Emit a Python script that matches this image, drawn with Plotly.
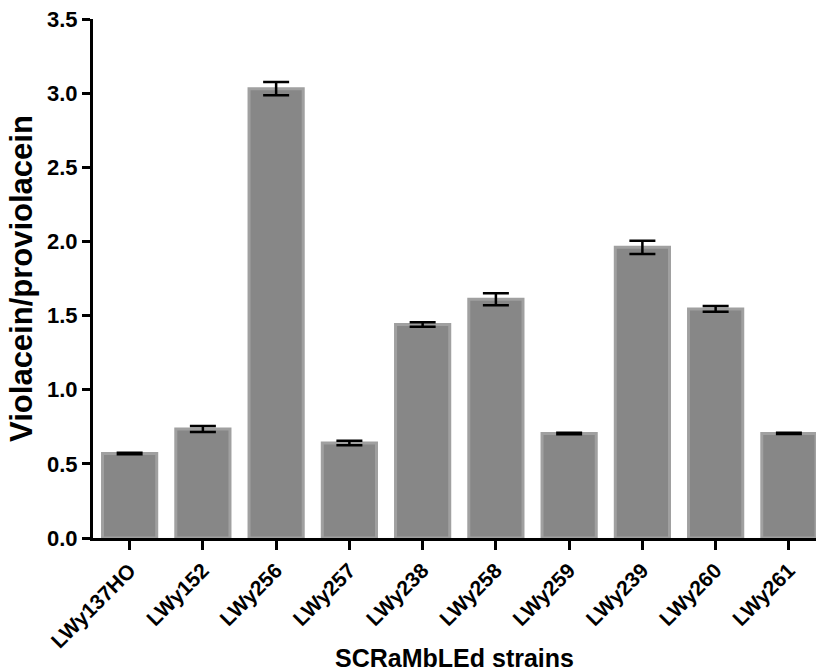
import plotly.graph_objects as go

strains = ["LWy137HO", "LWy152", "LWy256", "LWy257", "LWy238",
           "LWy258", "LWy259", "LWy239", "LWy260", "LWy261"]
ratio = [0.57, 0.735, 3.03, 0.64, 1.44, 1.61, 0.705, 1.96, 1.545, 0.705]
err = [0.005, 0.02, 0.045, 0.015, 0.015, 0.04, 0.005, 0.044, 0.02, 0.004]

FONT = "Liberation Sans, Arial, sans-serif"

fig = go.Figure()
fig.add_trace(go.Bar(
    x=list(range(len(strains))),
    y=ratio,
    width=0.74,
    marker=dict(color="#878787", line=dict(color="#a0a0a0", width=3)),
    error_y=dict(type="data", array=err, visible=True, color="black",
                 thickness=2.5, width=13),
))

fig.update_layout(
    width=816, height=672,
    margin=dict(l=93, r=0, t=19, b=134),
    plot_bgcolor="white", paper_bgcolor="white",
    showlegend=False,
    font=dict(family=FONT, color="black"),
    xaxis=dict(
        range=[-0.5, 9.37],
        automargin=False,
        tickmode="array",
        tickvals=list(range(len(strains))),
        ticktext=["<b>%s</b>" % s for s in strains],
        tickangle=-45,
        ticks="outside", ticklen=9, tickwidth=3, tickcolor="black",
        showline=True, linecolor="black", linewidth=3,
        showgrid=False, zeroline=False,
        tickfont=dict(family=FONT, size=21, color="black"),
        title=dict(text="<b>SCRaMbLEd strains</b>",
                   font=dict(family=FONT, size=25, color="black"),
                   standoff=25),
    ),
    yaxis=dict(
        range=[0, 3.5],
        automargin=False,
        tickmode="array",
        tickvals=[0, 0.5, 1.0, 1.5, 2.0, 2.5, 3.0, 3.5],
        ticktext=["<b>%s</b>" % t for t in
                  ["0.0", "0.5", "1.0", "1.5", "2.0", "2.5", "3.0", "3.5"]],
        ticks="outside", ticklen=8, tickwidth=3, tickcolor="black",
        showline=True, linecolor="black", linewidth=3,
        showgrid=False, zeroline=False,
        tickfont=dict(family=FONT, size=22, color="black"),
        title=dict(text="<b>Violacein/proviolacein</b>",
                   font=dict(family=FONT, size=31, color="black"),
                   standoff=6),
    ),
)

fig.write_html("out.html")
